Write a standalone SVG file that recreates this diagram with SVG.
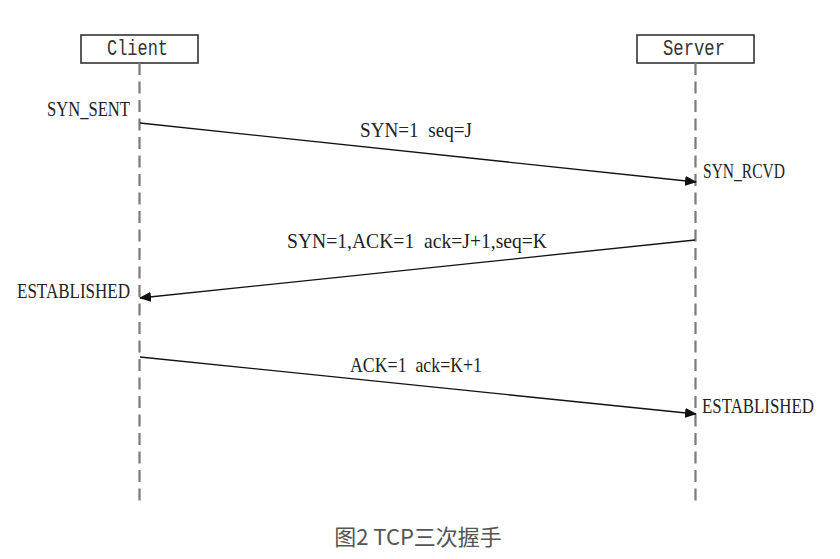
<svg xmlns="http://www.w3.org/2000/svg" width="840" height="559" viewBox="0 0 840 559">
<style>
.box{fill:#fff;stroke:#333;stroke-width:1.6}
.life{stroke:#7a7a7a;stroke-width:2.2;stroke-dasharray:12 6.5;fill:none}
.msg{stroke:#111;stroke-width:1.3;fill:none}
.nm{font-family:"Liberation Mono",monospace;font-size:22px;fill:#333}
.lb{font-family:"Liberation Serif",serif;font-size:21px;fill:#222;white-space:pre}
.cap{font-family:"Noto Sans CJK SC","Noto Sans",sans-serif;font-size:22px;fill:#555}
</style>
<defs>
<marker id="ah" markerWidth="12" markerHeight="10" refX="11" refY="5" orient="auto" markerUnits="userSpaceOnUse">
<path d="M0,0 L12,5 L0,10 Z" fill="#111"/>
</marker>
</defs>
<rect width="840" height="559" fill="#fff"/>
<g id="client">
<rect class="box" x="81" y="35" width="117" height="28"/>
<text class="nm" x="107" y="55" textLength="61" lengthAdjust="spacingAndGlyphs">Client</text>
<line class="life" x1="139.5" y1="63" x2="139.5" y2="505"/>
</g>
<g id="server">
<rect class="box" x="637" y="35" width="117" height="28"/>
<text class="nm" x="663" y="55" textLength="62" lengthAdjust="spacingAndGlyphs">Server</text>
<line class="life" x1="695.5" y1="63" x2="695.5" y2="505"/>
</g>
<g id="states">
<text class="lb" x="47" y="116" textLength="83" lengthAdjust="spacingAndGlyphs">SYN_SENT</text>
<text class="lb" x="703" y="178" textLength="82" lengthAdjust="spacingAndGlyphs">SYN_RCVD</text>
<text class="lb" x="17" y="298" textLength="113" lengthAdjust="spacingAndGlyphs">ESTABLISHED</text>
<text class="lb" x="702" y="413" textLength="112" lengthAdjust="spacingAndGlyphs">ESTABLISHED</text>
</g>
<g id="connectors">
<line class="msg" x1="140" y1="123" x2="696" y2="182" marker-end="url(#ah)"/>
<line class="msg" x1="695" y1="240" x2="140" y2="298" marker-end="url(#ah)"/>
<line class="msg" x1="140" y1="357" x2="696" y2="414" marker-end="url(#ah)"/>
<text class="lb" x="360" y="137" textLength="112" lengthAdjust="spacingAndGlyphs" xml:space="preserve">SYN=1  seq=J</text>
<text class="lb" x="287" y="248" textLength="260" lengthAdjust="spacingAndGlyphs" xml:space="preserve">SYN=1,ACK=1  ack=J+1,seq=K</text>
<text class="lb" x="350" y="372" textLength="132" lengthAdjust="spacingAndGlyphs" xml:space="preserve">ACK=1  ack=K+1</text>
</g>
<text class="cap" x="418" y="545" text-anchor="middle">图2 TCP三次握手</text>
</svg>
